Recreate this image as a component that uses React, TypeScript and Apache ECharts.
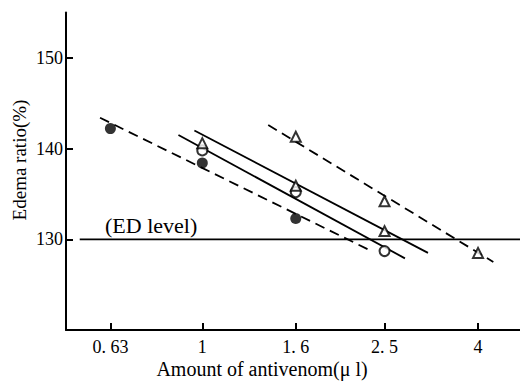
import React, { useEffect, useRef } from "react";
import * as echarts from "echarts";

// Dose axis (log scale) tick positions and their printed labels
const tickDoses = [0.63, 1, 1.6, 2.5, 4];
const tickLabels = ["0. 63", "1", "1. 6", "2. 5", "4"];

// Edema ratio tick values
const yTicks = [130, 140, 150];

// Measured points
const filledCircleDoses = [0.63, 1, 1.6];
const filledCircleValues = [142.2, 138.4, 132.3];

const openCircleDoses = [1, 1.6, 2.5];
const openCircleValues = [139.8, 135.2, 128.7];

const lowerTriangleDoses = [1, 1.6, 2.5];
const lowerTriangleValues = [140.6, 135.9, 130.9];

const upperTriangleDoses = [1.6, 2.5, 4];
const upperTriangleValues = [141.3, 134.2, 128.5];

// Regression lines (start and end)
const filledFitDoses = [0.598, 2.32];
const filledFitValues = [143.4, 128.8];

const openCircleFitDoses = [0.887, 2.77];
const openCircleFitValues = [141.5, 127.9];

const lowerTriangleFitDoses = [0.961, 3.11];
const lowerTriangleFitValues = [142.0, 128.5];

const upperTriangleFitDoses = [1.393, 4.32];
const upperTriangleFitValues = [142.6, 127.5];

// ED level reference line
const edLevel = 130;
const edLineDoses = [0.54, 4.94];

const FONT = "Liberation Serif";

const lg = (d: number) => Math.log10(d);
const pts = (xs: number[], ys: number[]) => xs.map((x, i) => [lg(x), ys[i]]);

function labelFor(v: number): string {
  let best = 0;
  let bestDist = Infinity;
  tickDoses.forEach((d, i) => {
    const dist = Math.abs(lg(d) - v);
    if (dist < bestDist) {
      bestDist = dist;
      best = i;
    }
  });
  return bestDist < 0.02 ? tickLabels[best] : "";
}

export default function App() {
  const ref = useRef<HTMLDivElement>(null);

  useEffect(() => {
    if (!ref.current) return;
    const chart = echarts.init(ref.current, undefined, { renderer: "svg" });

    const fitLine = (name: string, data: number[][], dashed: boolean) => ({
      name,
      type: "line",
      data,
      symbol: "none",
      silent: true,
      lineStyle: {
        color: "#000",
        width: 1.8,
        type: dashed ? [10, 6] : "solid",
      },
      z: 2,
    });

    const markers = (
      name: string,
      data: number[][],
      symbol: string,
      size: number,
      filled: boolean
    ) => ({
      name,
      type: "scatter",
      data,
      symbol,
      symbolSize: size,
      itemStyle: {
        color: filled ? "#000" : "#fff",
        borderColor: "#000",
        borderWidth: filled ? 0 : 2,
      },
      z: 5,
    });

    const tickValues = tickDoses.map(lg);

    chart.setOption({
      animation: false,
      backgroundColor: "#fff",
      grid: { left: 66, right: 0, top: 12.5, bottom: 51 },
      xAxis: {
        type: "value",
        min: -0.2976,
        max: 0.6937,
        axisLine: { show: true, onZero: false, lineStyle: { color: "#000", width: 2 } },
        axisTick: {
          show: true,
          inside: true,
          length: 7,
          customValues: tickValues,
          lineStyle: { color: "#000", width: 2 },
        },
        axisLabel: {
          customValues: tickValues,
          formatter: (v: number) => labelFor(v),
          color: "#000",
          fontFamily: FONT,
          fontSize: 18,
          margin: 8,
        },
        splitLine: { show: false },
      },
      yAxis: {
        type: "value",
        min: 120,
        max: 155,
        axisLine: { show: true, onZero: false, lineStyle: { color: "#000", width: 2 } },
        axisTick: {
          show: true,
          inside: true,
          length: 7,
          customValues: yTicks,
          lineStyle: { color: "#000", width: 2 },
        },
        axisLabel: {
          customValues: yTicks,
          color: "#000",
          fontFamily: FONT,
          fontSize: 18,
          margin: 3,
        },
        splitLine: { show: false },
      },
      series: [
        {
          name: "ED level",
          type: "line",
          data: edLineDoses.map((d) => [lg(d), edLevel]),
          symbol: "none",
          silent: true,
          lineStyle: { color: "#000", width: 1.8 },
          z: 1,
        },
        fitLine("filled fit", pts(filledFitDoses, filledFitValues), true),
        fitLine("open circle fit", pts(openCircleFitDoses, openCircleFitValues), false),
        fitLine("lower triangle fit", pts(lowerTriangleFitDoses, lowerTriangleFitValues), false),
        fitLine("upper triangle fit", pts(upperTriangleFitDoses, upperTriangleFitValues), true),
        markers("filled circles", pts(filledCircleDoses, filledCircleValues), "circle", 11, true),
        markers("open circles", pts(openCircleDoses, openCircleValues), "circle", 10, false),
        markers("lower triangles", pts(lowerTriangleDoses, lowerTriangleValues), "triangle", 10, false),
        markers("upper triangles", pts(upperTriangleDoses, upperTriangleValues), "triangle", 10, false),
      ],
      graphic: [
        {
          type: "text",
          x: 105,
          y: 225,
          style: {
            text: "(ED level)",
            fill: "#000",
            fontFamily: FONT,
            fontSize: 22,
            align: "left",
            verticalAlign: "middle",
          },
        },
        {
          type: "text",
          x: 262,
          y: 369,
          style: {
            text: "Amount of antivenom(\u03bc l)",
            fill: "#000",
            fontFamily: FONT,
            fontSize: 20,
            align: "center",
            verticalAlign: "middle",
          },
        },
        {
          type: "text",
          x: 19,
          y: 160,
          rotation: Math.PI / 2,
          style: {
            text: "Edema ratio(%)",
            fill: "#000",
            fontFamily: FONT,
            fontSize: 19,
            align: "center",
            verticalAlign: "middle",
          },
        },
      ],
    });

    return () => chart.dispose();
  }, []);

  return (
    <div
      ref={ref}
      style={{ position: "fixed", left: 0, top: 0, width: 520, height: 381 }}
    />
  );
}
